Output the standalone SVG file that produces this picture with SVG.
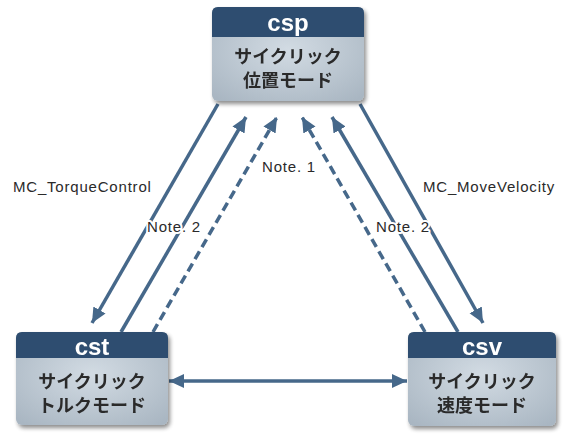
<svg xmlns="http://www.w3.org/2000/svg" width="564" height="434" viewBox="0 0 564 434">
<style>
.hdr{fill:#2f4e6f}
.body{fill:url(#bg)}
.title{font-family:"Liberation Sans",Arial,sans-serif;font-weight:bold;font-size:24px;fill:#ffffff;text-anchor:middle}
.jp{font-family:"Noto Sans CJK JP","Noto Sans CJK SC",sans-serif;font-weight:bold;font-size:18px;fill:#2b2b2b;text-anchor:middle}
.lbl{font-family:"Liberation Sans",Arial,sans-serif;font-size:15px;fill:#2a2a2a;letter-spacing:0.8px}
.halo{paint-order:stroke;stroke:#ffffff;stroke-width:4px;stroke-linejoin:round}
.ln{stroke:#46688a;stroke-width:3.5;fill:none}
.dash{stroke-dasharray:9 5}
</style>
<defs>
<radialGradient id="bg" cx="0.5" cy="0.45" r="0.7">
<stop offset="0" stop-color="#d2dbe3"/>
<stop offset="1" stop-color="#a9b6c2"/>
</radialGradient>
<filter id="sh" x="-10%" y="-10%" width="125%" height="130%">
<feGaussianBlur in="SourceAlpha" stdDeviation="2"/>
<feOffset dx="1.5" dy="2.5"/>
<feComponentTransfer><feFuncA type="linear" slope="0.45"/></feComponentTransfer>
<feMerge><feMergeNode/><feMergeNode in="SourceGraphic"/></feMerge>
</filter>
<marker id="ah" markerUnits="userSpaceOnUse" markerWidth="16" markerHeight="16" viewBox="0 0 16 16" refX="15" refY="8" orient="auto-start-reverse">
<path d="M0,1 L15,8 L0,15 Z" fill="#46688a"/>
</marker>
</defs>

<g id="connectors">
<line class="ln" x1="218" y1="104" x2="92" y2="323" marker-end="url(#ah)"/>
<line class="ln" x1="121" y1="332" x2="246" y2="117" marker-end="url(#ah)"/>
<line class="ln dash" x1="153" y1="332" x2="277" y2="117" marker-end="url(#ah)"/>
<line class="ln dash" x1="425" y1="332" x2="302" y2="117" marker-end="url(#ah)"/>
<line class="ln" x1="458" y1="332" x2="332" y2="117" marker-end="url(#ah)"/>
<line class="ln" x1="360" y1="104" x2="483" y2="323" marker-end="url(#ah)"/>
<line class="ln" x1="169" y1="381" x2="407" y2="381" marker-start="url(#ah)" marker-end="url(#ah)"/>
</g>

<g id="labels">
<text class="lbl" x="13" y="192">MC_TorqueControl</text>
<text class="lbl halo" x="147" y="232">Note. 2</text>
<text class="lbl halo" x="262" y="172">Note. 1</text>
<text class="lbl" x="423" y="192">MC_MoveVelocity</text>
<text class="lbl halo" x="376" y="232">Note. 2</text>
</g>

<g id="csp" filter="url(#sh)">
<rect class="body" x="212" y="7" width="152" height="94" rx="6"/>
<path class="hdr" d="M212,37 V13 Q212,7 218,7 H358 Q364,7 364,13 V37 Z"/>
<text class="title" x="288" y="31">csp</text>
<text class="jp" x="288" y="63">サイクリック</text>
<text class="jp" x="288" y="87">位置モード</text>
</g>

<g id="cst" filter="url(#sh)">
<rect class="body" x="16" y="332" width="152" height="93" rx="6"/>
<path class="hdr" d="M16,358 V338 Q16,332 22,332 H162 Q168,332 168,338 V358 Z"/>
<text class="title" x="92" y="355">cst</text>
<text class="jp" x="92" y="388">サイクリック</text>
<text class="jp" x="92" y="412">トルクモード</text>
</g>

<g id="csv" filter="url(#sh)">
<rect class="body" x="408" y="332" width="148" height="94" rx="6"/>
<path class="hdr" d="M408,358 V338 Q408,332 414,332 H550 Q556,332 556,338 V358 Z"/>
<text class="title" x="482" y="355">csv</text>
<text class="jp" x="482" y="388">サイクリック</text>
<text class="jp" x="482" y="412">速度モード</text>
</g>
</svg>
